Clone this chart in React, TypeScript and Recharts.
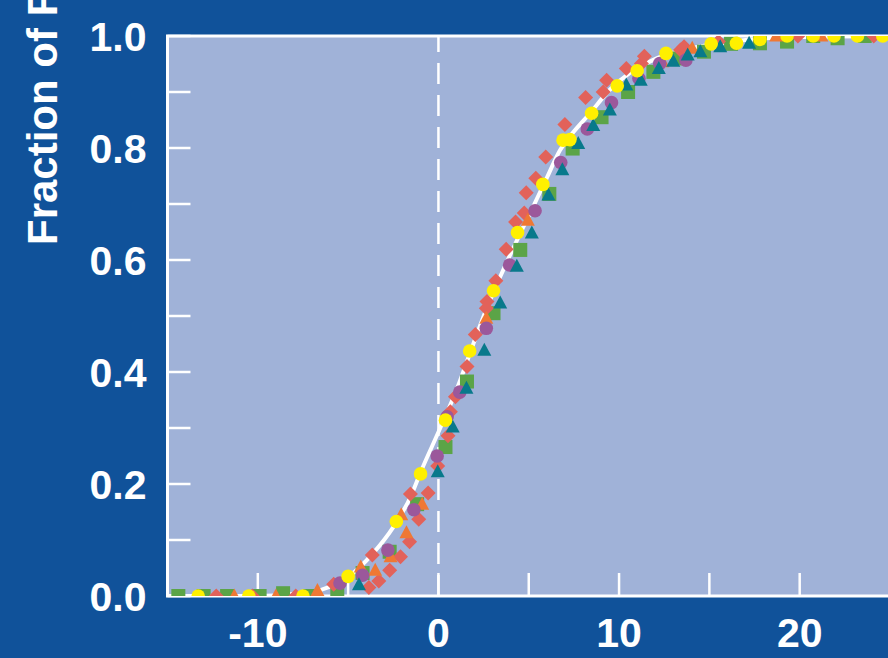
import React from 'react';
import {
  ComposedChart,
  Scatter,
  Line,
  XAxis,
  YAxis,
  ReferenceArea,
  ReferenceLine,
} from 'recharts';

const BG = '#10529a';
const PLOT_BG = '#a0b2d8';
const FONT = '"Liberation Sans", Arial, Helvetica, sans-serif';

const COLORS = {
  red: '#e2625a',
  orange: '#ef7834',
  purple: '#9b589b',
  green: '#5ba447',
  teal: '#08798b',
  yellow: '#fff000',
};

// Axis ticks
const xTicks = [-10, -5, 0, 5, 10, 15, 20];
const xTickLabels = [-10, 0, 10, 20];
const yTicks = [0, 0.1, 0.2, 0.3, 0.4, 0.5, 0.6, 0.7, 0.8, 0.9, 1.0];
const yTickLabels = [0, 0.2, 0.4, 0.6, 0.8, 1.0];
const yAxisTitle = 'Fraction of Flies';

// Red diamonds
const redX = [-12.3, -10.3, -7.9, -5.8, -3.85, -3.66, -3.3, -2.7, -2.1, -1.6, -1.55, -1.09, -0.57, -0.04, 0.53, 0.66, 0.94, 1.58, 2.04, 2.65, 2.69, 3.18, 3.75, 4.27, 4.75, 4.86, 5.39, 5.94, 7.0, 8.15, 9.12, 9.31, 10.4, 11.24, 11.4, 13.4, 13.6, 15.5, 19.9, 24.1];
const redY = [0, 0, 0, 0.021, 0.015, 0.073, 0.027, 0.046, 0.07, 0.097, 0.182, 0.137, 0.184, 0.232, 0.286, 0.329, 0.356, 0.41, 0.467, 0.514, 0.526, 0.563, 0.619, 0.668, 0.684, 0.72, 0.746, 0.784, 0.842, 0.89, 0.9, 0.921, 0.942, 0.951, 0.964, 0.975, 0.981, 0.99, 1.0, 1.0];

// Orange triangles
const orangeX = [-11.3, -9.0, -6.7, -4.3, -3.5, -2.65, -2.06, -1.77, -0.9, 2.65, 4.95, 12.4, 14.05, 18.7, 21.2];
const orangeY = [0, 0, 0.01, 0.052, 0.046, 0.07, 0.145, 0.113, 0.164, 0.496, 0.671, 0.954, 0.978, 1.0, 1.0];

// Purple circles
const purpleX = [-5.45, -4.2, -2.8, -1.36, -0.07, 0.48, 1.18, 2.65, 3.94, 5.35, 6.77, 8.24, 9.58, 11.1, 12.25, 13.7];
const purpleY = [0.023, 0.037, 0.082, 0.154, 0.25, 0.32, 0.364, 0.478, 0.591, 0.688, 0.774, 0.834, 0.881, 0.924, 0.951, 0.957];

// Green squares
const greenX = [-14.4, -13.0, -11.7, -9.9, -8.6, -7.1, -5.6, -4.2, -2.7, -1.18, 0.39, 1.58, 3.05, 4.53, 6.14, 7.43, 9.03, 10.5, 11.9, 13.3, 14.7, 16.2, 17.8, 19.3, 20.75, 22.1, 23.6];
const greenY = [0, 0, 0, 0, 0.005, 0, 0.008, 0.041, 0.079, 0.164, 0.266, 0.383, 0.505, 0.618, 0.718, 0.799, 0.855, 0.9, 0.936, 0.96, 0.972, 0.986, 0.987, 0.99, 1.0, 0.996, 1.0];

// Teal triangles
const tealX = [-4.4, -0.04, 0.79, 1.55, 2.54, 3.42, 4.34, 5.17, 6.09, 6.86, 7.74, 8.57, 9.49, 10.4, 11.2, 12.2, 13.0, 13.8, 14.5, 15.6, 17.2];
const tealY = [0.02, 0.222, 0.302, 0.371, 0.439, 0.523, 0.589, 0.648, 0.716, 0.761, 0.808, 0.84, 0.868, 0.9125, 0.921, 0.942, 0.955, 0.966, 0.972, 0.981, 0.987];

// Yellow circles
const yellowX = [-13.3, -10.5, -7.5, -5.0, -2.33, -0.99, 0.39, 1.73, 3.05, 4.38, 5.78, 6.9, 7.28, 8.48, 9.9, 11.0, 12.6, 15.1, 16.5, 17.8, 19.3, 20.75, 21.9, 23.2, 24.6];
const yellowY = [0, 0, 0, 0.035, 0.133, 0.218, 0.314, 0.4375, 0.545, 0.649, 0.735, 0.814, 0.815, 0.862, 0.911, 0.938, 0.969, 0.986, 0.987, 0.994, 1.0, 1.0, 1.0, 1.0, 1.0];

// White fitted curve
const curveX = [-15, -10, -8, -6.5, -5, -3.6, -2.5, -1.5, -1, 0.1, 1.05, 1.93, 2.48, 3.42, 4.36, 5.24, 6.02, 6.73, 7.12, 8.39, 9.49, 10.6, 11.87, 13.52, 15, 17, 20, 25];
const curveY = [0, 0, 0.004, 0.011, 0.034, 0.077, 0.123, 0.18, 0.22, 0.3, 0.372, 0.45, 0.498, 0.57, 0.636, 0.695, 0.748, 0.796, 0.814, 0.862, 0.904, 0.934, 0.957, 0.975, 0.984, 0.993, 0.998, 1.0];

const zip = (xs: number[], ys: number[]) => xs.map((x, i) => ({ x, y: ys[i] }));

const redData = zip(redX, redY);
const orangeData = zip(orangeX, orangeY);
const purpleData = zip(purpleX, purpleY);
const greenData = zip(greenX, greenY);
const tealData = zip(tealX, tealY);
const yellowData = zip(yellowX, yellowY);
const curveData = zip(curveX, curveY);

const diamondShape = (p: any) => (
  <path
    d={`M${p.cx},${p.cy - 7.5}L${p.cx + 7.5},${p.cy}L${p.cx},${p.cy + 7.5}L${p.cx - 7.5},${p.cy}Z`}
    fill={COLORS.red}
  />
);
const squareShape = (p: any) => (
  <rect x={p.cx - 7} y={p.cy - 7} width={14} height={14} fill={COLORS.green} />
);
const circleShape = (color: string) => (p: any) => (
  <circle cx={p.cx} cy={p.cy} r={6.8} fill={color} />
);
const triangleShape = (color: string) => (p: any) => (
  <path
    d={`M${p.cx},${p.cy - 7.5}L${p.cx + 7},${p.cy + 5.5}L${p.cx - 7},${p.cy + 5.5}Z`}
    fill={color}
  />
);

const textStyle = {
  fill: '#ffffff',
  fontSize: 41,
  fontWeight: 700,
  fontFamily: FONT,
};

const XTick = (props: any) => {
  const { x, y, payload } = props;
  if (!xTickLabels.includes(payload.value)) return <g />;
  return (
    <text x={x} y={y} dy="0.71em" textAnchor="middle" {...textStyle}>
      {String(payload.value)}
    </text>
  );
};

const YTick = (props: any) => {
  const { x, y, payload } = props;
  const v = payload.value;
  if (!yTickLabels.some((t) => Math.abs(t - v) < 1e-9)) return <g />;
  return (
    <text x={x} y={y} dy="0.355em" textAnchor="end" {...textStyle}>
      {Number(v).toFixed(1)}
    </text>
  );
};

const EmptyTick = () => <g />;

const YTitle = () => (
  <text
    x={57}
    y={245}
    transform="rotate(-90 57 245)"
    textAnchor="start"
    fill="#ffffff"
    fontSize={42}
    fontWeight={700}
    fontFamily={FONT}
  >
    {yAxisTitle}
  </text>
);

const tickLineStyle = { stroke: '#ffffff', strokeWidth: 2.5 };

export default function App() {
  return (
    <div
      style={{
        position: 'fixed',
        left: 0,
        top: 0,
        width: 888,
        height: 658,
        overflow: 'hidden',
        background: BG,
      }}
    >
      <ComposedChart
        width={890}
        height={658}
        margin={{ top: 36, right: 0, bottom: 0, left: 0 }}
      >
        <XAxis
          dataKey="x"
          type="number"
          domain={[-15, 25]}
          allowDataOverflow
          ticks={xTicks}
          interval={0}
          height={62}
          tickSize={-23}
          tickMargin={45}
          axisLine={false}
          tickLine={tickLineStyle}
          tick={XTick}
        />
        <XAxis
          xAxisId="top"
          orientation="top"
          dataKey="x"
          type="number"
          domain={[-15, 25]}
          allowDataOverflow
          ticks={xTicks}
          interval={0}
          height={0}
          tickSize={-23}
          axisLine={false}
          tickLine={tickLineStyle}
          tick={EmptyTick}
        />
        <YAxis
          dataKey="y"
          type="number"
          domain={[0, 1]}
          allowDataOverflow
          ticks={yTicks}
          interval={0}
          width={167.5}
          tickSize={-23}
          tickMargin={44}
          axisLine={false}
          tickLine={tickLineStyle}
          tick={YTick}
          label={{ content: YTitle }}
        />
        <YAxis
          yAxisId="right"
          orientation="right"
          dataKey="y"
          type="number"
          domain={[0, 1]}
          allowDataOverflow
          ticks={yTicks}
          interval={0}
          width={0}
          tickSize={-23}
          axisLine={false}
          tickLine={tickLineStyle}
          tick={EmptyTick}
        />
        <ReferenceArea
          x1={-15}
          x2={25}
          y1={0}
          y2={1}
          fill={PLOT_BG}
          fillOpacity={1}
          stroke="#ffffff"
          strokeWidth={3}
          ifOverflow="visible"
        />
        <ReferenceLine
          x={0}
          stroke="#ffffff"
          strokeWidth={2.5}
          strokeDasharray="21 11"
        />
        <Line
          data={curveData}
          dataKey="y"
          type="monotone"
          stroke="#ffffff"
          strokeWidth={4}
          dot={false}
          activeDot={false}
          isAnimationActive={false}
        />
        <Scatter data={greenData} shape={squareShape} isAnimationActive={false} />
        <Scatter data={redData} shape={diamondShape} isAnimationActive={false} />
        <Scatter data={orangeData} shape={triangleShape(COLORS.orange)} isAnimationActive={false} />
        <Scatter data={purpleData} shape={circleShape(COLORS.purple)} isAnimationActive={false} />
        <Scatter data={tealData} shape={triangleShape(COLORS.teal)} isAnimationActive={false} />
        <Scatter data={yellowData} shape={circleShape(COLORS.yellow)} isAnimationActive={false} />
      </ComposedChart>
    </div>
  );
}
